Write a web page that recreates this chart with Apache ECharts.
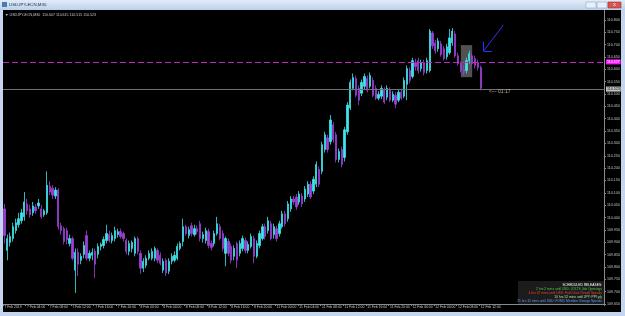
<!DOCTYPE html>
<html><head><meta charset="utf-8">
<script src="https://cdn.jsdelivr.net/npm/echarts@6/dist/echarts.min.js"></script>
<style>html,body{margin:0;padding:0;background:#c8d9ee;overflow:hidden}#c{width:625px;height:316px}</style>
</head><body><div id="c"></div>
<script>
// USDJPY-ECN, M30 bars (open, close, low, high)
const openP = [
110.035,109.867,109.899,109.915,109.947,109.971,109.987,110.003,110.055,110.035,
110.019,110.043,110.047,110.035,110.011,110.019,110.127,110.119,110.087,110.111,
109.967,109.955,109.947,109.895,109.915,109.787,109.859,109.827,109.851,109.927,
109.835,109.847,109.863,109.851,109.883,109.887,109.907,109.931,109.907,109.915,
109.931,109.943,109.935,109.907,109.863,109.875,109.855,109.915,109.855,109.795,
109.807,109.835,109.835,109.835,109.867,109.847,109.787,109.827,109.783,109.823,
109.827,109.835,109.875,109.903,109.963,109.927,109.967,109.931,109.955,109.975,
109.915,109.907,109.943,109.895,109.895,109.935,109.963,109.935,109.855,109.903,
109.883,109.843,109.895,109.855,109.875,109.907,109.867,109.883,109.915,109.843,
109.887,109.915,109.963,109.947,109.975,109.931,109.955,109.935,109.963,110.015,
109.995,110.035,110.075,110.083,110.063,110.087,110.075,110.095,110.135,110.107,
110.135,110.195,110.187,110.275,110.323,110.307,110.375,110.335,110.235,110.275,
110.243,110.347,110.443,110.523,110.563,110.523,110.503,110.531,110.563,110.531,
110.555,110.523,110.483,110.491,110.515,110.487,110.515,110.475,110.495,110.475,
110.507,110.491,110.539,110.595,110.571,110.627,110.635,110.603,110.627,110.595,
110.595,110.747,110.707,110.683,110.703,110.683,110.651,110.667,110.707,110.743,
110.655,110.623,110.599,110.595,110.635,110.655,110.643,110.627,110.607];
const closeP = [
109.927,109.915,109.923,109.963,109.979,109.995,110.019,110.063,110.027,110.011,
110.047,110.027,110.059,110.003,110.027,110.131,110.103,110.091,110.111,109.963,
109.947,109.903,109.911,109.915,109.835,109.859,109.811,109.843,109.887,109.835,
109.855,109.859,109.811,109.883,109.891,109.911,109.935,109.907,109.927,109.947,
109.943,109.923,109.915,109.863,109.895,109.899,109.915,109.863,109.795,109.823,
109.835,109.855,109.863,109.875,109.827,109.815,109.823,109.775,109.823,109.843,
109.847,109.883,109.895,109.963,109.935,109.951,109.935,109.955,109.943,109.915,
109.931,109.947,109.887,109.879,109.935,109.975,109.915,109.875,109.915,109.855,
109.827,109.875,109.827,109.895,109.915,109.867,109.891,109.923,109.843,109.895,
109.935,109.963,109.923,109.987,109.915,109.963,109.915,109.975,110.015,109.975,
110.055,110.075,110.063,110.043,110.095,110.055,110.115,110.135,110.083,110.155,
110.215,110.135,110.295,110.335,110.275,110.395,110.315,110.235,110.267,110.215,
110.355,110.455,110.547,110.567,110.495,110.475,110.547,110.571,110.515,110.575,
110.495,110.483,110.499,110.523,110.467,110.523,110.475,110.499,110.459,110.507,
110.483,110.555,110.603,110.555,110.635,110.611,110.595,110.627,110.587,110.635,
110.755,110.695,110.675,110.715,110.659,110.643,110.691,110.727,110.755,110.655,
110.623,110.595,110.587,110.635,110.663,110.623,110.615,110.607,110.523];
const lowP = [
109.895,109.827,109.883,109.903,109.935,109.959,109.975,109.987,110.011,109.999,
110.007,110.015,110.035,109.995,110.003,110.011,110.091,110.075,110.075,109.951,
109.931,109.891,109.891,109.883,109.827,109.695,109.763,109.811,109.835,109.827,
109.823,109.827,109.755,109.835,109.867,109.875,109.895,109.899,109.895,109.903,
109.919,109.915,109.903,109.851,109.847,109.859,109.843,109.851,109.771,109.779,
109.795,109.827,109.827,109.823,109.815,109.807,109.775,109.763,109.771,109.811,
109.819,109.827,109.867,109.883,109.927,109.915,109.923,109.923,109.931,109.903,
109.899,109.895,109.875,109.867,109.883,109.927,109.907,109.863,109.803,109.843,
109.815,109.827,109.795,109.843,109.863,109.855,109.855,109.875,109.815,109.835,
109.875,109.907,109.911,109.935,109.907,109.915,109.903,109.923,109.955,109.963,
109.983,110.023,110.051,110.031,110.051,110.043,110.063,110.083,110.075,110.095,
110.123,110.123,110.175,110.263,110.263,110.295,110.303,110.223,110.223,110.203,
110.227,110.335,110.435,110.515,110.487,110.455,110.491,110.519,110.507,110.523,
110.487,110.475,110.475,110.479,110.459,110.475,110.467,110.467,110.443,110.467,
110.475,110.483,110.475,110.543,110.563,110.595,110.583,110.591,110.575,110.583,
110.587,110.683,110.663,110.671,110.651,110.635,110.639,110.659,110.695,110.647,
110.615,110.587,110.575,110.583,110.623,110.615,110.603,110.595,110.515];
const highP = [
110.055,109.931,109.939,109.979,109.995,110.019,110.035,110.103,110.075,110.051,
110.063,110.055,110.075,110.051,110.035,110.187,110.147,110.131,110.123,110.119,
109.979,109.963,109.959,109.931,109.923,109.875,109.875,109.855,109.903,109.947,
109.867,109.875,109.875,109.895,109.899,109.923,109.971,109.947,109.939,109.963,
109.955,109.955,109.943,109.915,109.907,109.907,109.923,109.923,109.867,109.835,
109.847,109.867,109.875,109.883,109.875,109.859,109.835,109.835,109.835,109.855,
109.863,109.895,109.903,109.995,109.971,109.963,109.979,109.971,109.967,109.987,
109.943,109.959,109.955,109.907,109.947,110.003,109.975,109.947,109.923,109.915,
109.895,109.887,109.903,109.907,109.927,109.919,109.903,109.935,109.927,109.907,
109.947,109.975,109.975,110.003,109.987,109.975,109.967,109.987,110.027,110.027,
110.067,110.087,110.087,110.095,110.107,110.099,110.127,110.147,110.147,110.167,
110.227,110.207,110.307,110.347,110.335,110.415,110.387,110.347,110.279,110.287,
110.367,110.467,110.559,110.583,110.575,110.535,110.559,110.583,110.575,110.587,
110.567,110.535,110.511,110.535,110.527,110.535,110.527,110.511,110.507,110.519,
110.519,110.567,110.615,110.607,110.647,110.643,110.647,110.639,110.639,110.647,
110.763,110.755,110.719,110.727,110.715,110.695,110.703,110.763,110.767,110.755,
110.667,110.631,110.615,110.647,110.675,110.667,110.655,110.639,110.615];

// time axis labels, one every 8 bars (4 hours)
const timeLabels = ["7 Feb 2019","7 Feb 04:00","7 Feb 08:00","7 Feb 12:00","7 Feb 16:00","7 Feb 20:00",
"8 Feb 00:00","8 Feb 04:00","8 Feb 08:00","8 Feb 12:00","8 Feb 16:00","8 Feb 20:00",
"11 Feb 00:00","11 Feb 04:00","11 Feb 08:00","11 Feb 12:00","11 Feb 16:00","11 Feb 20:00",
"12 Feb 00:00","12 Feb 04:00","12 Feb 08:00","12 Feb 12:00"];
const barsPerLabel = 8;
const totalSlots = 212;           // bars + empty right margin (chart shift)
const yMin = 109.65, yMax = 110.84, yStep = 0.05;
const userLevel = 110.627;        // magenta dashed horizontal line
const boxX = [161.4, 165.3], boxY = [110.698, 110.568];   // grey rectangle
const arrowTail = [176.2, 110.779], arrowTip = [168.8, 110.674];
const arrowHeadUp = [168.8, 110.712], arrowHeadRight = [172.3, 110.674];
const releases = [
 ["SCHEDULED RELEASES:", "#ffffff"],
 ["2 hrs 2 mins until USD: JOLTS Job Openings", "#48d048"],
 ["4 hrs 47 mins until USD: Fed Chair Powell Speaks", "#ff3a3a"],
 ["10 hrs 52 mins until JPY: PPI y/y", "#a8e0a0"],
 ["21 hrs 15 mins until USD: FOMC Member George Speaks", "#5c9cff"]
];

const last = openP.length - 1;
const cats = Array.from({length: totalSlots}, (_, i) => String(i));
const ohlc = cats.map((_, i) => i <= last ? [openP[i], closeP[i], lowP[i], highP[i]] : '-');
const f3 = v => v.toFixed(3);
const showIdx = i => i % barsPerLabel === 0 && i <= last;

const chart = echarts.init(document.getElementById('c'), null, {renderer: 'canvas'});
const g = [];
g.push({type:'rect', shape:{x:0,y:0,width:625,height:10}, z:100,
  style:{fill:new echarts.graphic.LinearGradient(0,0,0,1,[{offset:0,color:'#e2ecf8'},{offset:1,color:'#bcd1ea'}])}});
g.push({type:'rect', shape:{x:0,y:10,width:3,height:306}, z:100, style:{fill:'#c3d6ee'}});
g.push({type:'rect', shape:{x:621,y:10,width:4,height:306}, z:100, style:{fill:'#c3d6ee'}});
g.push({type:'rect', shape:{x:0,y:312,width:625,height:4}, z:100, style:{fill:'#c3d6ee'}});
g.push({type:'rect', shape:{x:2,y:2,width:5,height:5}, z:101, style:{fill:'#4a7bb7'}});
g.push({type:'text', x:9, y:5, z:101, style:{text:'USDJPY-ECN,M30', fontSize:4.4, fill:'#1e2a3a', verticalAlign:'middle', fontFamily:'Arial'}});
g.push({type:'rect', shape:{x:586,y:2,width:10,height:6}, z:101, style:{fill:'#e8f0fa', stroke:'#8ea7c6', lineWidth:0.6}});
g.push({type:'rect', shape:{x:597,y:2,width:10,height:6}, z:101, style:{fill:'#e8f0fa', stroke:'#8ea7c6', lineWidth:0.6}});
g.push({type:'rect', shape:{x:608,y:2,width:13,height:6}, z:101, style:{fill:'#d9534f', stroke:'#9c2f2c', lineWidth:0.6}});
g.push({type:'text', x:614.5, y:5, z:102, style:{text:'x', fontSize:5, fill:'#fff', align:'center', verticalAlign:'middle', fontFamily:'Arial'}});
g.push({type:'text', x:5, y:15, z:101, style:{text:'\u25BC USDJPY-ECN,M30  ' + [openP[last],highP[last],lowP[last],closeP[last]].map(f3).join(' '),
  fontSize:3.6, fill:'#c8c8c8', verticalAlign:'middle', fontFamily:'Arial'}});
g.push({type:'rect', shape:{x:518,y:281,width:86,height:23}, z:50, style:{fill:'#1c1c1c'}});
releases.forEach((r, k) => g.push({type:'text', x:602, y:285 + k*4, z:51,
  style:{text:r[0], fontSize:3.3, fill:r[1], align:'right', verticalAlign:'middle', fontFamily:'Arial'}}));

const option = {
  backgroundColor: '#000',
  animation: false,
  graphic: g,
  grid: {left: 3, right: 21, top: 10, bottom: 12},
  xAxis: {
    type: 'category', data: cats, boundaryGap: true,
    axisLine: {lineStyle: {color: '#8a8a8a', width: 1}},
    axisTick: {show: true, length: 2, interval: showIdx, lineStyle: {color: '#8a8a8a'}},
    axisLabel: {interval: showIdx, formatter: (v, i) => timeLabels[i / barsPerLabel] || '',
      align: 'left', margin: 2, fontSize: 3.4, color: '#c8c8c8', fontFamily: 'Arial'},
    splitLine: {show: false}
  },
  yAxis: {
    type: 'value', position: 'right', min: yMin, max: yMax, interval: yStep,
    axisLine: {show: true, lineStyle: {color: '#8a8a8a'}},
    axisTick: {show: true, length: 2, lineStyle: {color: '#8a8a8a'}},
    axisLabel: {formatter: f3, fontSize: 3.6, color: '#c8c8c8', margin: 3, showMaxLabel: false, fontFamily: 'Arial'},
    splitLine: {show: false}
  },
  series: [{
    type: 'candlestick', data: ohlc, barWidth: 1.8,
    itemStyle: {color: '#3fe4ea', color0: '#9c40d8', borderColor: '#3fe4ea', borderColor0: '#9c40d8', borderWidth: 0.8},
    markArea: {silent: true, itemStyle: {color: 'rgba(125,125,125,0.65)'},
      data: [[{coord: [boxX[0], boxY[0]]}, {coord: [boxX[1], boxY[1]]}]]},
    markLine: {silent: true, symbol: ['none', 'none'], animation: false,
      data: [
        {yAxis: closeP[last], lineStyle: {color: '#707070', type: 'solid', width: 1},
          label: {show: true, position: 'end', formatter: f3(closeP[last]), backgroundColor: '#c4c4c4', color: '#000',
            fontSize: 3.6, padding: [1, 1, 0, 1], distance: 2, fontFamily: 'Arial'}},
        {yAxis: userLevel, lineStyle: {color: '#c028c0', type: [6, 3], width: 1},
          label: {show: true, position: 'end', formatter: f3(userLevel), backgroundColor: '#ff10ff', color: '#fff',
            fontSize: 3.6, padding: [1, 1, 0, 1], distance: 2, fontFamily: 'Arial'}},
        [{coord: arrowTail, lineStyle: {color: '#3030ff', width: 1, type: 'solid'}, label: {show: false}}, {coord: arrowTip}],
        [{coord: arrowTip, lineStyle: {color: '#3030ff', width: 1, type: 'solid'}, label: {show: false}}, {coord: arrowHeadUp}],
        [{coord: arrowTip, lineStyle: {color: '#3030ff', width: 1, type: 'solid'}, label: {show: false}}, {coord: arrowHeadRight}]
      ]},
    markPoint: {silent: true, symbol: 'circle', symbolSize: 0,
      data: [{coord: [last, closeP[last]], label: {show: true, position: 'right', offset: [3, 3], formatter: '<\u2014 01:17',
        color: '#c2b090', fontSize: 5, fontFamily: 'Arial'}}]}
  }]
};
chart.setOption(option);
</script></body></html>
